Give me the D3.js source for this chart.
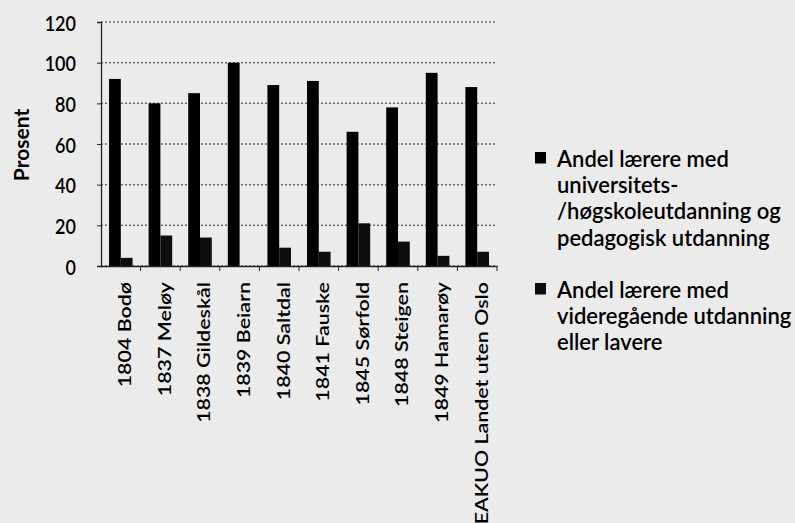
<!DOCTYPE html>
<html>
<head>
<meta charset="utf-8">
<script src="https://cdn.jsdelivr.net/npm/d3@7"></script>
<style>
  html, body { margin: 0; padding: 0; background: #ebebeb; }
  svg { display: block; }
  text { font-family: Lato, "Open Sans", sans-serif; fill: #000; }
</style>
</head>
<body>
<svg id="chart" width="795" height="523"></svg>
<script>
const categories = ["1804 Bodø", "1837 Meløy", "1838 Gildeskål", "1839 Beiarn", "1840 Saltdal",
  "1841 Fauske", "1845 Sørfold", "1848 Steigen", "1849 Hamarøy", "EAKUO Landet uten Oslo"];
const seriesNames = ["Andel lærere med universitets-/høgskoleutdanning og pedagogisk utdanning",
  "Andel lærere med videregående utdanning eller lavere"];
const higherEd = [92, 80, 85, 100, 89, 91, 66, 78, 95, 88];
const upperSec = [4, 15, 14, 0, 9, 7, 21, 12, 5, 7];
const yTicks = [0, 20, 40, 60, 80, 100, 120];
const yTitle = "Prosent";
const legendLines = [
  ["Andel lærere med", "universitets-", "/høgskoleutdanning og", "pedagogisk utdanning"],
  ["Andel lærere med", "videregående utdanning", "eller lavere"]
];
const colors = ["#000000", "#0d0d0d"];

const svg = d3.select("#chart");
const plot = { left: 101, right: 497, top: 22, bottom: 266 };

const y = d3.scaleLinear().domain([0, 120]).range([plot.bottom, plot.top]);
const x0 = d3.scaleBand().domain(categories).range([plot.left, plot.right]).paddingInner(0).paddingOuter(0);
const x1 = d3.scaleBand().domain([0, 1]).range([0, x0.bandwidth()]).paddingInner(0).paddingOuter(0.68);

// gridlines
svg.append("g")
  .selectAll("line").data(yTicks).join("line")
  .attr("x1", plot.left).attr("x2", plot.right)
  .attr("y1", d => y(d)).attr("y2", d => y(d))
  .attr("stroke", "#6a6a6a").attr("stroke-width", 1.5)
  .attr("stroke-dasharray", "2,2");

// bars
const rows = categories.map((c, i) => ({ c, vals: [higherEd[i], upperSec[i]] }));
const groups = svg.append("g").selectAll("g").data(rows).join("g")
  .attr("transform", d => `translate(${x0(d.c)},0)`);
groups.selectAll("rect").data(d => d.vals.map((v, k) => ({ v, k }))).join("rect")
  .attr("x", d => x1(d.k)).attr("width", x1.bandwidth())
  .attr("y", d => y(d.v)).attr("height", d => y(0) - y(d.v))
  .attr("fill", d => colors[d.k]);

// y axis
const yAxis = d3.axisLeft(y).tickValues(yTicks).tickSize(4).tickPadding(0);
const gy = svg.append("g").attr("transform", `translate(${plot.left},0)`).call(yAxis);
gy.select(".domain").attr("stroke", "#222").attr("stroke-width", 1.3);
gy.selectAll(".tick line").attr("stroke", "#222");
gy.selectAll(".tick text")
  .attr("font-size", 18).attr("font-family", "Lato, sans-serif").attr("font-weight", 600).attr("fill", "#000")
  .attr("x", 0).attr("dy", "0.36em")
  .attr("transform", "translate(-25,1) scale(1,1.12)");

// x axis
const xAxis = d3.axisBottom(x0).tickSize(0).tickPadding(0);
const gx = svg.append("g").attr("transform", `translate(0,${plot.bottom})`).call(xAxis);
gx.select(".domain").attr("stroke", "#222").attr("stroke-width", 1.3);
gx.selectAll(".tick text")
  .attr("font-size", 18).attr("font-family", "Lato, sans-serif").attr("font-weight", 600).attr("fill", "#000")
  .attr("transform", "translate(4,16) rotate(-90) scale(1.19,1)")
  .attr("text-anchor", "end")
  .attr("dy", "0.36em")
  .attr("x", 0).attr("y", 0);
// boundary ticks
svg.append("g").selectAll("line").data(categories).join("line")
  .attr("x1", d => x0(d) + x0.bandwidth())
  .attr("x2", d => x0(d) + x0.bandwidth())
  .attr("y1", plot.bottom).attr("y2", plot.bottom + 5)
  .attr("stroke", "#222");

// y title
svg.append("text")
  .attr("transform", `translate(29,${(plot.top + plot.bottom) / 2 + 1}) rotate(-90)`)
  .attr("text-anchor", "middle")
  .attr("font-size", 21).attr("font-weight", "bold")
  .text(yTitle);

// legend
const lg = svg.append("g");
const entryY = [152, 283];
legendLines.forEach((lines, k) => {
  lg.append("rect").attr("x", 535).attr("y", entryY[k]).attr("width", 11).attr("height", 11.5).attr("fill", colors[k]);
  const t = lg.append("text")
    .attr("transform", `translate(557,${entryY[k] + 15}) scale(1,1.08)`)
    .attr("x", 0).attr("y", 0)
    .attr("font-size", 22).attr("font-weight", 600);
  lines.forEach((ln, j) => t.append("tspan").attr("x", 0).attr("dy", j === 0 ? 0 : 24.3).text(ln));
});
</script>
</body>
</html>
